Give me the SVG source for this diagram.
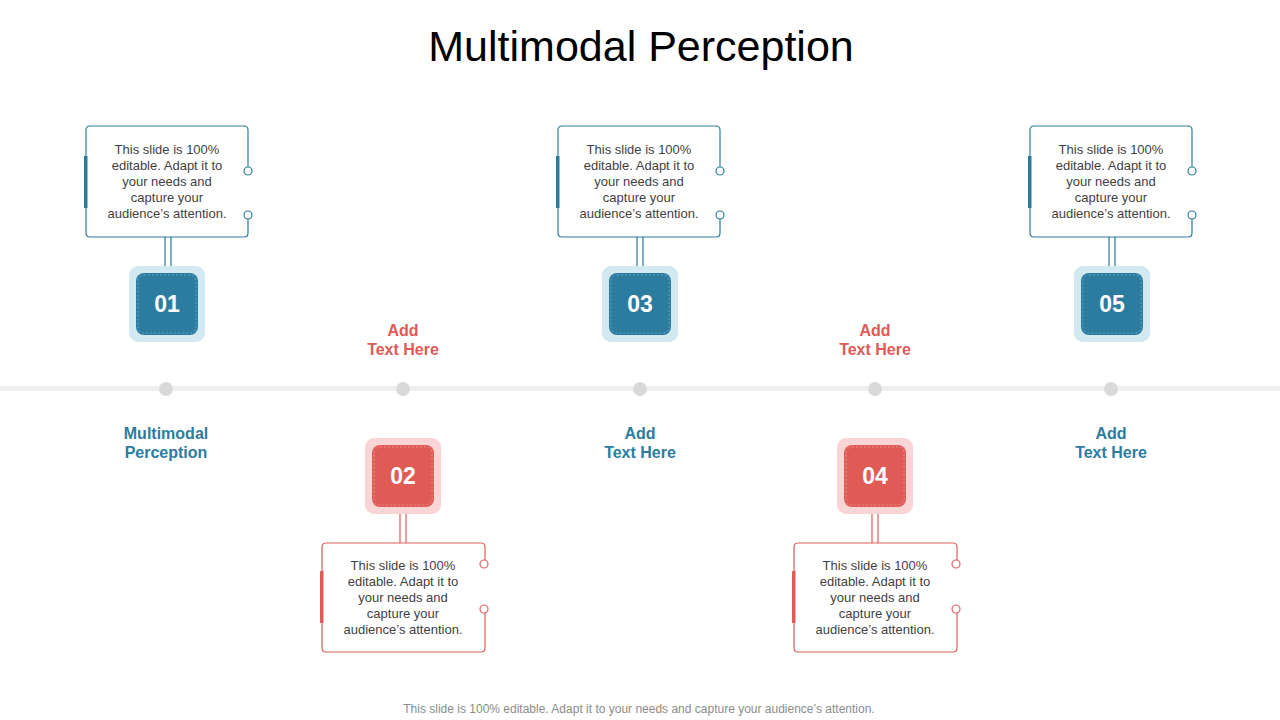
<svg xmlns="http://www.w3.org/2000/svg" width="1280" height="720" viewBox="0 0 1280 720">
<defs>
<style>
text{font-family:"Liberation Sans",Arial,sans-serif}
.title{font-size:43px;fill:#000;text-anchor:middle}
.body{font-size:13px;fill:#3f3f3f;text-anchor:middle}
.num{font-size:23px;font-weight:bold;fill:#fff;text-anchor:middle}
.lblB{font-size:16px;font-weight:bold;fill:#2c7ca0;text-anchor:middle}
.lblR{font-size:16px;font-weight:bold;fill:#e05b56;text-anchor:middle}
.foot{font-size:12px;fill:#8c8c8c;text-anchor:middle}
.bB{fill:none;stroke:#2c7ca0;stroke-width:1.2}
.bR{fill:none;stroke:#d9605b;stroke-width:1.2}
.cB{fill:#fff;stroke:#2c7ca0;stroke-width:1.2}
.cR{fill:#fff;stroke:#d9605b;stroke-width:1.2}
.oB{fill:#d3e9f2}
.iB{fill:#2c7ca0}
.oR{fill:#f9d6d5}
.iR{fill:#e05b56}
.dash{fill:none;stroke:#ffffff;stroke-opacity:0.3;stroke-width:1;stroke-dasharray:2 2}
.dot{fill:#d9d9d9}
</style>
</defs>
<text class="title" x="641" y="61">Multimodal Perception</text>
<g id="timeline">
<rect x="0" y="386" width="1280" height="5" fill="#efefef"/>
<circle class="dot" cx="166" cy="389" r="7"/>
<circle class="dot" cx="403" cy="389" r="7"/>
<circle class="dot" cx="640" cy="389" r="7"/>
<circle class="dot" cx="875" cy="389" r="7"/>
<circle class="dot" cx="1111" cy="389" r="7"/>
</g>
<g id="connectors">
<line class="bB" x1="165" y1="237" x2="165" y2="266"/><line class="bB" x1="171" y1="237" x2="171" y2="266"/>
<line class="bB" x1="637" y1="237" x2="637" y2="266"/><line class="bB" x1="643" y1="237" x2="643" y2="266"/>
<line class="bB" x1="1109" y1="237" x2="1109" y2="266"/><line class="bB" x1="1115" y1="237" x2="1115" y2="266"/>
<line class="bR" x1="400" y1="514" x2="400" y2="543"/><line class="bR" x1="406" y1="514" x2="406" y2="543"/>
<line class="bR" x1="872" y1="514" x2="872" y2="543"/><line class="bR" x1="878" y1="514" x2="878" y2="543"/>
</g>
<g id="node1">
<path class="bB" d="M248,167 V130 Q248,126 244,126 H90 Q86,126 86,130 V233 Q86,237 90,237 H244 Q248,237 248,233 V219"/>
<circle class="cB" cx="248" cy="171" r="4"/><circle class="cB" cx="248" cy="215" r="4"/>
<rect x="84" y="156" width="3.5" height="52" fill="#2c7ca0"/>
<text class="body" x="167" y="154">This slide is 100%</text>
<text class="body" x="167" y="170">editable. Adapt it to</text>
<text class="body" x="167" y="186">your needs and</text>
<text class="body" x="167" y="202">capture your</text>
<text class="body" x="167" y="218">audience’s attention.</text>
<rect class="oB" x="129" y="266" width="76" height="76" rx="9"/>
<rect class="iB" x="136" y="273" width="62" height="62" rx="8"/>
<rect class="dash" x="138" y="275" width="58" height="58" rx="6"/>
<text class="num" x="167" y="312">01</text>
<text class="lblB" x="166" y="439">Multimodal</text>
<text class="lblB" x="166" y="458">Perception</text>
</g>
<g id="node2">
<path class="bR" d="M485,560 V547 Q485,543 481,543 H326 Q322,543 322,547 V648 Q322,652 326,652 H481 Q485,652 485,648 V613"/>
<circle class="cR" cx="484" cy="564" r="4"/><circle class="cR" cx="484" cy="609" r="4"/>
<rect x="320" y="571" width="3.5" height="52" fill="#e05b56"/>
<text class="body" x="403" y="570">This slide is 100%</text>
<text class="body" x="403" y="586">editable. Adapt it to</text>
<text class="body" x="403" y="602">your needs and</text>
<text class="body" x="403" y="618">capture your</text>
<text class="body" x="403" y="634">audience’s attention.</text>
<rect class="oR" x="365" y="438" width="76" height="76" rx="9"/>
<rect class="iR" x="372" y="445" width="62" height="62" rx="8"/>
<rect class="dash" x="374" y="447" width="58" height="58" rx="6"/>
<text class="num" x="403" y="484">02</text>
<text class="lblR" x="403" y="336">Add</text>
<text class="lblR" x="403" y="355">Text Here</text>
</g>
<g id="node3">
<path class="bB" d="M720,167 V130 Q720,126 716,126 H562 Q558,126 558,130 V233 Q558,237 562,237 H716 Q720,237 720,233 V219"/>
<circle class="cB" cx="720" cy="171" r="4"/><circle class="cB" cx="720" cy="215" r="4"/>
<rect x="556" y="156" width="3.5" height="52" fill="#2c7ca0"/>
<text class="body" x="639" y="154">This slide is 100%</text>
<text class="body" x="639" y="170">editable. Adapt it to</text>
<text class="body" x="639" y="186">your needs and</text>
<text class="body" x="639" y="202">capture your</text>
<text class="body" x="639" y="218">audience’s attention.</text>
<rect class="oB" x="602" y="266" width="76" height="76" rx="9"/>
<rect class="iB" x="609" y="273" width="62" height="62" rx="8"/>
<rect class="dash" x="611" y="275" width="58" height="58" rx="6"/>
<text class="num" x="640" y="312">03</text>
<text class="lblB" x="640" y="439">Add</text>
<text class="lblB" x="640" y="458">Text Here</text>
</g>
<g id="node4">
<path class="bR" d="M957,560 V547 Q957,543 953,543 H798 Q794,543 794,547 V648 Q794,652 798,652 H953 Q957,652 957,648 V613"/>
<circle class="cR" cx="956" cy="564" r="4"/><circle class="cR" cx="956" cy="609" r="4"/>
<rect x="792" y="571" width="3.5" height="52" fill="#e05b56"/>
<text class="body" x="875" y="570">This slide is 100%</text>
<text class="body" x="875" y="586">editable. Adapt it to</text>
<text class="body" x="875" y="602">your needs and</text>
<text class="body" x="875" y="618">capture your</text>
<text class="body" x="875" y="634">audience’s attention.</text>
<rect class="oR" x="837" y="438" width="76" height="76" rx="9"/>
<rect class="iR" x="844" y="445" width="62" height="62" rx="8"/>
<rect class="dash" x="846" y="447" width="58" height="58" rx="6"/>
<text class="num" x="875" y="484">04</text>
<text class="lblR" x="875" y="336">Add</text>
<text class="lblR" x="875" y="355">Text Here</text>
</g>
<g id="node5">
<path class="bB" d="M1192,167 V130 Q1192,126 1188,126 H1034 Q1030,126 1030,130 V233 Q1030,237 1034,237 H1188 Q1192,237 1192,233 V219"/>
<circle class="cB" cx="1192" cy="171" r="4"/><circle class="cB" cx="1192" cy="215" r="4"/>
<rect x="1028" y="156" width="3.5" height="52" fill="#2c7ca0"/>
<text class="body" x="1111" y="154">This slide is 100%</text>
<text class="body" x="1111" y="170">editable. Adapt it to</text>
<text class="body" x="1111" y="186">your needs and</text>
<text class="body" x="1111" y="202">capture your</text>
<text class="body" x="1111" y="218">audience’s attention.</text>
<rect class="oB" x="1074" y="266" width="76" height="76" rx="9"/>
<rect class="iB" x="1081" y="273" width="62" height="62" rx="8"/>
<rect class="dash" x="1083" y="275" width="58" height="58" rx="6"/>
<text class="num" x="1112" y="312">05</text>
<text class="lblB" x="1111" y="439">Add</text>
<text class="lblB" x="1111" y="458">Text Here</text>
</g>
<text class="foot" x="639" y="713">This slide is 100% editable. Adapt it to your needs and capture your audience’s attention.</text>
</svg>
